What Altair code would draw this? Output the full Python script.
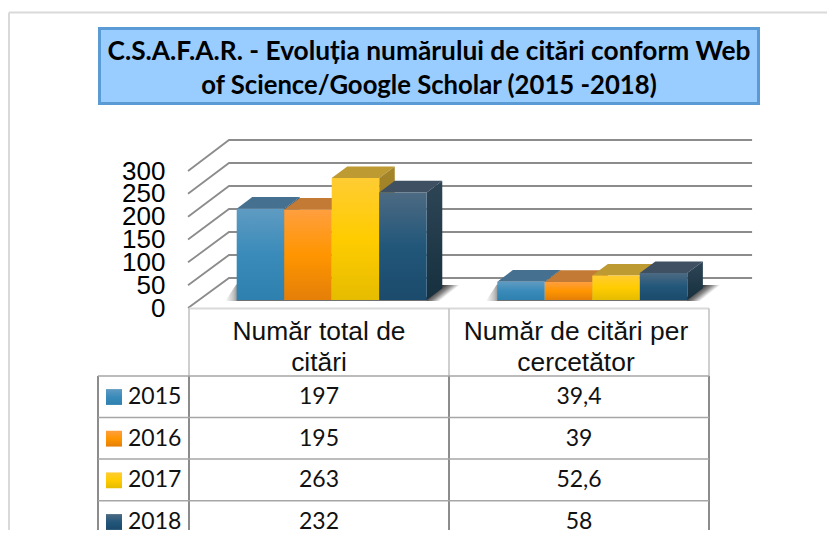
import altair as alt
import pandas as pd

years = ["2015", "2016", "2017", "2018"]
total_citations = [197, 195, 263, 232]
per_researcher = [39.4, 39, 52.6, 58]
per_researcher_labels = ["39,4", "39", "52,6", "58"]
ticks = [0, 50, 100, 150, 200, 250, 300]
header_one = ["Număr total de", "citări"]
header_two = ["Număr de citări per", "cercetător"]
title_lines = ["C.S.A.F.A.R. - Evoluția numărului de citări conform Web",
               "of Science/Google Scholar (2015 -2018)"]

front = [("#5F9BC2", "#3A8BBA", "#2E80AE"), ("#FF9F3F", "#FF9500", "#E47F08"),
         ("#FFCC33", "#FFCC00", "#E6BC00"), ("#4D6A82", "#22577A", "#1B4A6C")]
top = ["#45708F", "#C27A35", "#BE9A33", "#3E5062"]
side = [("#2F5F80", "#1F4D6C"), ("#B56F1E", "#A8620F"), ("#A58529", "#967720"), ("#2E4556", "#16303F")]
GRID = "#8C8C8C"

# logical plot units: one bar width along x, one citation along y
DX, DY = 0.328, 25.2          # depth of a bar
GROUP_STEP = 5.486            # distance between category groups
OFF = 8                       # page margin
X = alt.Scale(domain=[0, 1], range=[236.7 - OFF, 284.2 - OFF])
Y = alt.Scale(domain=[0, 300], range=[300 - OFF, 300 - OFF - 139.08])
ROW = alt.Scale(domain=[0, 3], range=[397 - OFF, 522 - OFF])
one = pd.DataFrame({"k": [0]})


def grad(stops, x1=0, y1=0, x2=0, y2=1):
    n = len(stops)
    return alt.Gradient(gradient="linear",
                        stops=[alt.GradientStop(offset=i / (n - 1), color=c) for i, c in enumerate(stops)],
                        x1=x1, x2=x2, y1=y1, y2=y2)


def hv(x=None, x2=None, y=None, y2=None):
    d = {}
    if x is not None: d["x"] = alt.value(x - OFF)
    if x2 is not None: d["x2"] = alt.value(x2 - OFF)
    if y is not None: d["y"] = alt.value(y - OFF)
    if y2 is not None: d["y2"] = alt.value(y2 - OFF)
    return d


layers = []

# outer frame
for e in (hv(x=9, y=12.5, y2=560), hv(x=9, x2=860, y=12.5)):
    layers.append(alt.Chart(one).mark_rule(color="#D9D9D9", strokeWidth=2).encode(**e))

# title box
layers.append(alt.Chart(one).mark_rect(fill="#99CCFF", stroke="#5B9BD5", strokeWidth=3)
              .encode(**hv(x=99.5, x2=758.5, y=28.5, y2=103.5)))
for line, py, fs in zip(title_lines, [51.5, 86], [26.3, 25.7]):
    layers.append(alt.Chart(pd.DataFrame({"t": [line]}))
                  .mark_text(font="Lato", fontWeight="bold", fontSize=fs, color="#000000", align="center", baseline="middle")
                  .encode(text="t:N", **hv(x=429, y=py)))

# walls: side diagonal and back line for every tick
rows = []
for t in ticks:
    rows.append({"tick": t, "u": -1.025, "v": (-8 + 0.4567 * t) / 0.4636, "o": 0})
    rows.append({"tick": t, "u": -0.162, "v": (22 + 0.46 * t) / 0.4636, "o": 1})
    rows.append({"tick": t, "u": 10.85, "v": (22 + 0.46 * t) / 0.4636, "o": 2})
layers.append(alt.Chart(pd.DataFrame(rows)).mark_line(color=GRID, strokeWidth=1.8).encode(
    x=alt.X("u:Q", scale=X, axis=None),
    y=alt.Y("v:Q", scale=Y, axis=None),
    detail="tick:N", order="o:Q"))

# y axis, on the front edge of the floor
layers.append(alt.Chart(pd.DataFrame({"tick": ticks})).mark_point(opacity=0).encode(
    y=alt.Y("tick:Q", scale=alt.Scale(domain=[0, 300], range=[308 - OFF, 171 - OFF]),
            axis=alt.Axis(values=ticks, domain=False, ticks=False, grid=False, title=None,
                          labelFont="Liberation Sans", labelFontSize=26, labelColor="#000000",
                          labelPadding=0, labelOverlap=False, labelFlush=False, offset=-157))))

# bars
for g, series in enumerate([total_citations, per_researcher]):
    u0 = g * GROUP_STEP
    # floor shadows
    sh = pd.DataFrame({"v": [-2, DY + 8], "a": [u0 - 0.24, u0 - 0.01], "b": [u0 + 0.1, u0 + 0.1]})
    layers.append(alt.Chart(sh).mark_area(orient="horizontal",
                                          color=grad(["#FFFFFF", "#C4C4C4", "#606060"], x2=1, y2=0)).encode(
        y=alt.Y("v:Q", scale=Y, axis=None), x=alt.X("a:Q", scale=X, axis=None), x2="b:Q"))
    uend = u0 + 4
    sh = pd.DataFrame({"v": [-2, DY + 7], "a": [uend - 0.1, uend + 0.28], "b": [uend + 0.28, uend + 0.7]})
    layers.append(alt.Chart(sh).mark_area(orient="horizontal",
                                          color=grad(["#3A3A3A", "#8A8A8A", "#FFFFFF"], x1=0.3, y1=0.5, x2=0.64, y2=0.68)).encode(
        y=alt.Y("v:Q", scale=Y, axis=None), x=alt.X("a:Q", scale=X, axis=None), x2="b:Q"))
    under = pd.DataFrame({"a": [u0], "b": [uend], "hi": [0], "lo": [-2]})
    layers.append(alt.Chart(under).mark_rect(color="#707070").encode(
        x=alt.X("a:Q", scale=X, axis=None), x2="b:Q",
        y=alt.Y("hi:Q", scale=Y, axis=None), y2="lo:Q"))
    for i, val in enumerate(series):
        a, b = u0 + i, u0 + i + 1
        # top face
        t = pd.DataFrame({"v": [val, val + DY], "a": [a, a + DX], "b": [b, b + DX]})
        layers.append(alt.Chart(t).mark_area(orient="horizontal", color=top[i]).encode(
            y=alt.Y("v:Q", scale=Y, axis=None), x=alt.X("a:Q", scale=X, axis=None), x2="b:Q"))
        # side face
        s = pd.DataFrame({"u": [b, b + DX], "hi": [val, val + DY], "lo": [0, DY]})
        layers.append(alt.Chart(s).mark_area(color=grad(list(side[i]))).encode(
            x=alt.X("u:Q", scale=X, axis=None), y=alt.Y("hi:Q", scale=Y, axis=None), y2="lo:Q"))
        # front face
        f = pd.DataFrame({"a": [a], "b": [b], "hi": [val], "lo": [0]})
        layers.append(alt.Chart(f).mark_rect(color=grad(list(front[i]))).encode(
            x=alt.X("a:Q", scale=X, axis=None), x2="b:Q",
            y=alt.Y("hi:Q", scale=Y, axis=None), y2="lo:Q"))

# table rules
LIGHT, MID, DARK = "#D9D9D9", "#A6A6A6", "#8C8C8C"
rules = [(hv(x=189, x2=709, y=308.5), LIGHT, 2),
         (hv(x=189, y=308.5, y2=376), "#BFBFBF", 1.5),
         (hv(x=449, y=308.5, y2=376), "#BFBFBF", 1.5),
         (hv(x=709, y=308.5, y2=376), "#BFBFBF", 1.5),
         (hv(x=98, y=376, y2=560), DARK, 2),
         (hv(x=189, y=376, y2=560), DARK, 2),
         (hv(x=449, y=376, y2=560), DARK, 2),
         (hv(x=709, y=376, y2=560), DARK, 2)]
for py in [376, 417.5, 459, 500.7]:
    rules.append((hv(x=98, x2=709, y=py), MID, 1.6))
for e, c, w in rules:
    layers.append(alt.Chart(one).mark_rule(color=c, strokeWidth=w).encode(**e))

# table header
for lines, px in [(header_one, 319), (header_two, 576)]:
    for line, py in zip(lines, [332, 363]):
        layers.append(alt.Chart(pd.DataFrame({"t": [line]}))
                      .mark_text(font="Liberation Sans", fontSize=26.4, color="#111111", align="center", baseline="middle")
                      .encode(text="t:N", **hv(x=px, y=py)))

# table rows
table = pd.DataFrame({"row": range(4), "year": years,
                      "total": [str(v) for v in total_citations],
                      "per": per_researcher_labels})
for col, px, al in [("year", 128, "left"), ("total", 319, "center"), ("per", 579, "center")]:
    layers.append(alt.Chart(table).mark_text(font="Lato", fontSize=23, color="#111111", align=al, baseline="middle").encode(
        y=alt.Y("row:Q", scale=ROW, axis=None), text=f"{col}:N", **hv(x=px)))

# legend swatches
for i in range(4):
    sw = pd.DataFrame({"lo": [i - 0.19], "hi": [i + 0.19]})
    layers.append(alt.Chart(sw).mark_rect(color=grad(list(front[i]))).encode(
        y=alt.Y("lo:Q", scale=ROW, axis=None), y2="hi:Q", **hv(x=106, x2=122)))

chart = (alt.layer(*layers)
         .resolve_scale(y="independent")
         .properties(width=819, height=522, padding=0, background="#FFFFFF",
                     autosize=alt.AutoSizeParams(type="none"))
         .configure_view(stroke=None))
chart.save("out.html", embed_options={"renderer": "svg", "actions": False})
